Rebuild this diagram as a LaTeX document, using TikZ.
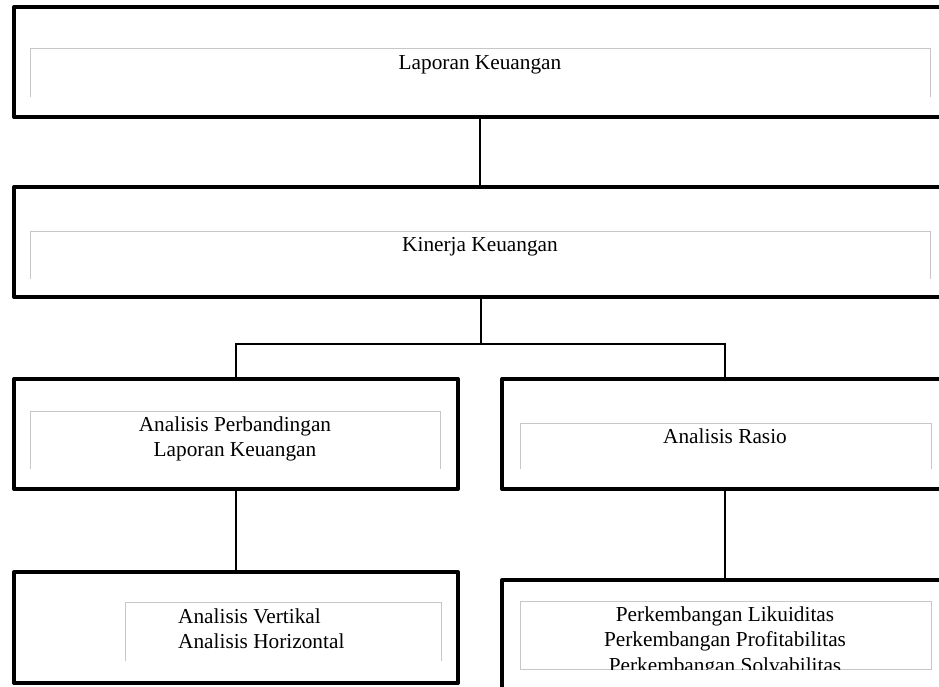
\documentclass[tikz,border=0pt]{standalone}
\usepackage{fontspec}
\setmainfont{Liberation Serif}
\begin{document}
\begin{tikzpicture}[x=1pt,y=-1pt,
    outerbox/.style={draw, line width=4pt, line join=round, inner sep=0pt, outer sep=0pt},
    innerbox/.style={inner sep=0pt, outer sep=0pt},
    innerline/.style={draw=black!22, line width=1pt},
    conn/.style={draw, line width=2pt},
    boxtext/.style={inner sep=0pt, align=center, font=\fontsize{21.3}{25.5}\selectfont}]
    \useasboundingbox (0,0) rectangle (939,687);
    \clip (0,0) rectangle (939,687);
    % Outer boxes
    \node[outerbox, minimum width=986pt, minimum height=110pt] (lap) at (507,62) {};
    \node[outerbox, minimum width=986pt, minimum height=110pt] (kin) at (507,242) {};
    \node[outerbox, minimum width=444pt, minimum height=110pt] (apl) at (236,434) {};
    \node[outerbox, minimum width=498pt, minimum height=110pt] (rasio) at (751,434) {};
    \node[outerbox, minimum width=444pt, minimum height=111pt] (avh) at (236,627.5) {};
    \node[outerbox, minimum width=498pt, minimum height=140pt] (perk) at (751,650) {};
    % Inner frames
    \node[innerbox, minimum width=900pt, minimum height=48pt] (lapin) at (480,73) {};
    \node[innerbox, minimum width=900pt, minimum height=48pt] (kinin) at (480,255) {};
    \node[innerbox, minimum width=410pt, minimum height=58pt] (aplin) at (235,440) {};
    \node[innerbox, minimum width=411pt, minimum height=46pt] (rasin) at (725.5,446) {};
    \node[innerbox, minimum width=316pt, minimum height=59pt] (avhin) at (283,631.5) {};
    \node[innerbox, minimum width=411pt, minimum height=68pt] (perkin) at (725.5,635) {};
    \foreach \n in {lapin,kinin,aplin,rasin,avhin}
        \draw[innerline] (\n.south west) |- (\n.north east) -- (\n.south east);
    \draw[innerline] (perkin.south west) rectangle (perkin.north east);
    % Texts
    \node[boxtext, anchor=base] (lapt) at (480,70) {Laporan Keuangan};
    \node[boxtext, anchor=base] (kint) at (480,251) {Kinerja Keuangan};
    \node[boxtext, anchor=north] (aplt) at (235,416.5) {Analisis Perbandingan\\Laporan Keuangan};
    \node[boxtext, anchor=base] (rast) at (725,443) {Analisis Rasio};
    \node[boxtext, anchor=north west, align=left] (avht) at (178,608.5) {Analisis Vertikal\\Analisis Horizontal};
    \begin{scope}
        \clip (perkin.south west) rectangle (perkin.north east);
        \node[boxtext, anchor=north] (perkt) at (725,606.5) {Perkembangan Likuiditas\\Perkembangan Profitabilitas\\Perkembangan Solvabilitas};
    \end{scope}
    % Connectors
    \coordinate (fork) at (481,344);
    \draw[conn] (lapt |- lap.south) -- (lapt |- kin.north);
    \draw[conn] (fork |- kin.south) -- (fork);
    \draw[conn] (apl.north) |- (fork -| rast) -- (rast |- rasio.north);
    \draw[conn] (apl.south) -- (avh.north);
    \draw[conn] (rast |- rasio.south) -- (rast |- perk.north);
\end{tikzpicture}
\end{document}
